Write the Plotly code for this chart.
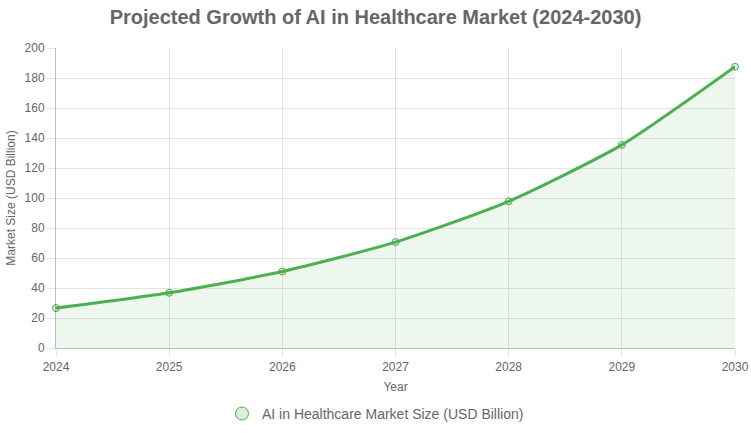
import plotly.graph_objects as go

years = [2024, 2025, 2026, 2027, 2028, 2029, 2030]
market_size = [26.6, 36.8, 51.0, 70.6, 97.8, 135.4, 187.5]
series_name = "AI in Healthcare Market Size (USD Billion)"

green = "#4CAF50"
grid = "rgba(0,0,0,0.1)"
font = "Liberation Sans, Arial, sans-serif"

fig = go.Figure()
fig.add_trace(go.Scatter(
    x=years, y=market_size, name=series_name,
    mode="lines+markers", showlegend=False, legendgroup="ai",
    line=dict(color=green, width=3, shape="spline", smoothing=0.6),
    marker=dict(size=7, color="rgba(76,175,80,0.2)", line=dict(color=green, width=1)),
    fill="tozeroy", fillcolor="rgba(76,175,80,0.1)",
    cliponaxis=False,
))
# legend entry: circle only, like the reference
fig.add_trace(go.Scatter(
    x=[None], y=[None], name=series_name, mode="markers", legendgroup="ai",
    marker=dict(size=13, color="rgba(76,175,80,0.2)", line=dict(color=green, width=1)),
))

fig.update_layout(
    width=751, height=433,
    margin=dict(l=56, r=16, t=48, b=85),
    paper_bgcolor="white", plot_bgcolor="white",
    font=dict(family=font, size=12, color="#666"),
    title=dict(text="<b>Projected Growth of AI in Healthcare Market (2024-2030)</b>",
               x=0.5, xanchor="center", yref="container", y=0.976, yanchor="top",
               font=dict(size=20, color="#666", family=font)),
    showlegend=True,
    legend=dict(orientation="h", xref="container", x=0.5, xanchor="center",
                yref="container", y=0.044, yanchor="middle", itemwidth=30,
                font=dict(size=14, color="#666")),
    xaxis=dict(
        title=dict(text="Year", standoff=9, font=dict(size=12)),
        range=[2024, 2030], tickmode="array", tickvals=years, automargin=False,
        showgrid=True, gridcolor=grid, ticks="outside", ticklen=8, tickcolor=grid,
        showline=True, linecolor="rgba(0,0,0,0.25)", zeroline=False,
    ),
    yaxis=dict(
        title=dict(text="Market Size (USD Billion)", standoff=6, font=dict(size=12)),
        range=[0, 200], dtick=20, automargin=False,
        showgrid=True, gridcolor=grid, ticks="outside", ticklen=8, tickcolor=grid,
        showline=True, linecolor="rgba(0,0,0,0.25)", zeroline=False,
    ),
)

# page body has a default 8px margin; drop it so the figure sits at 0,0
fig.write_html("out.html", config={"displayModeBar": False},
               post_script="document.body.style.margin='0';")
